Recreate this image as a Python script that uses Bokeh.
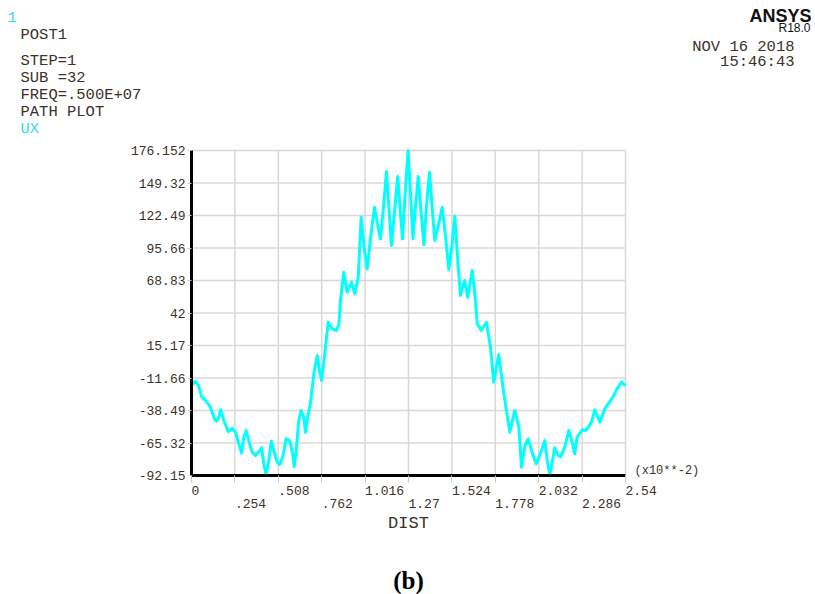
from bokeh.plotting import figure
from bokeh.models import (Range1d, FixedTicker, Label, LabelSet, ColumnDataSource,
                          LinearAxis, CustomLabelingPolicy)
from bokeh.core.properties import value
from bokeh.embed import file_html
from bokeh.resources import INLINE

# ---- data (DIST in x10**-2, UX) ----
dist = [0.000, 0.023, 0.041, 0.059, 0.086, 0.111, 0.136, 0.146, 0.160, 0.171,
        0.189, 0.215, 0.238, 0.258, 0.277, 0.293, 0.306, 0.320, 0.335, 0.355,
        0.375, 0.392, 0.410, 0.423, 0.437, 0.452, 0.468, 0.482, 0.502, 0.515,
        0.534, 0.554, 0.574, 0.593, 0.601, 0.613, 0.628, 0.642, 0.657, 0.667,
        0.683, 0.696, 0.716, 0.736, 0.749, 0.761, 0.780, 0.800, 0.823, 0.847,
        0.862, 0.872, 0.891, 0.911, 0.936, 0.956, 0.976, 0.993, 1.011, 1.028,
        1.049, 1.071, 1.089, 1.106, 1.124, 1.141, 1.156, 1.170, 1.188, 1.207,
        1.220, 1.235, 1.250, 1.268, 1.282, 1.296, 1.311, 1.327, 1.344, 1.360,
        1.375, 1.393, 1.408, 1.424, 1.446, 1.467, 1.487, 1.506, 1.522, 1.541,
        1.559, 1.574, 1.598, 1.617, 1.643, 1.662, 1.672, 1.696, 1.726, 1.750,
        1.769, 1.798, 1.828, 1.863, 1.892, 1.916, 1.931, 1.952, 1.971, 1.990,
        2.017, 2.042, 2.068, 2.082, 2.097, 2.111, 2.126, 2.146, 2.160, 2.185,
        2.208, 2.228, 2.243, 2.257, 2.287, 2.306, 2.324, 2.341, 2.360, 2.390,
        2.419, 2.446, 2.466, 2.491, 2.517, 2.540]
ux = [-17.5, -14.5, -17.8, -27.0, -30.8, -35.8, -46.0, -47.3, -44.0, -37.9,
      -46.7, -55.8, -53.3, -56.4, -66.0, -73.7, -60.5, -55.0, -63.3, -72.9,
      -75.6, -73.0, -69.3, -82.5, -92.0, -79.8, -63.8, -71.5, -81.2, -83.1,
      -77.0, -61.9, -63.3, -74.2, -84.7, -71.5, -46.7, -38.5, -44.0, -56.4,
      -41.2, -33.0, -8.2, 6.9, -5.5, -13.7, 8.3, 34.4, 29.0, 27.6,
      31.7, 52.3, 75.7, 59.2, 67.4, 57.8, 71.6, 121.1, 95.0, 78.5,
      105.0, 129.3, 115.0, 103.2, 130.0, 158.8, 128.0, 97.7, 125.0, 154.7,
      130.0, 103.2, 140.0, 176.0, 140.0, 103.2, 130.0, 154.7, 125.0, 98.3,
      130.0, 158.2, 130.0, 101.9, 115.0, 129.3, 105.0, 77.9, 95.0, 121.9,
      85.0, 56.5, 68.8, 55.0, 77.1, 52.3, 33.1, 27.6, 34.4, 13.8,
      -15.1, 7.7, -24.7, -56.4, -38.5, -52.3, -85.3, -67.4, -61.9, -71.5,
      -82.5, -74.2, -63.3, -79.8, -92.0, -81.2, -69.3, -75.6, -76.5, -68.8,
      -55.0, -64.7, -74.2, -60.5, -54.4, -55.0, -52.0, -48.1, -37.9, -48.1,
      -37.1, -31.6, -27.5, -20.6, -15.1, -17.9]

y_ticks = [-92.15, -65.32, -38.49, -11.66, 15.17, 42.0, 68.83, 95.66, 122.49, 149.32, 176.152]
y_tick_labels = ["-92.15", "-65.32", "-38.49", "-11.66", "15.17", "42", "68.83",
                 "95.66", "122.49", "149.32", "176.152"]
x_ticks = [0.0, 0.254, 0.508, 0.762, 1.016, 1.27, 1.524, 1.778, 2.032, 2.286, 2.54]
x_tick_labels = ["0", ".254", ".508", ".762", "1.016", "1.27", "1.524", "1.778",
                 "2.032", "2.286", "2.54"]

header_first = "POST1"
header_lines = ["STEP=1", "SUB =32", "FREQ=.500E+07", "PATH PLOT"]
header_var = "UX"
window_no = "1"
brand = "ANSYS"
release = "R18.0"
date_txt = "NOV 16 2018"
time_txt = "15:46:43"
x_scale_txt = "(x10**-2)"
x_title = "DIST"
caption = "(b)"

TXT = "#3a322a"
CY = "#00ffff"
CYT = "#33e0e0"
MONO = "Liberation Mono"

W, H = 815, 594
# plot box in canvas pixels
BL, BR, BT, BB = 191, 625, 150, 475
x0, x1 = x_ticks[0], x_ticks[-1]
y0, y1 = y_ticks[0], y_ticks[-1]
kx = (x1 - x0) / (BR - BL)
ky = (y1 - y0) / (BB - BT)

p = figure(width=W, height=H,
           x_range=Range1d(x0 - BL * kx, x1 + (W - BR) * kx),
           y_range=Range1d(y0 - (H - BB) * ky, y1 + BT * ky),
           x_axis_location=None, y_axis_location=None,
           output_backend="svg", toolbar_location=None, min_border=0)
p.title.visible = False
p.outline_line_color = None
p.background_fill_color = "white"
p.border_fill_color = "white"
p.xgrid.visible = False
p.ygrid.visible = False

# grid lines of the plot box
GC = "#d8d8d8"
p.segment(x0=x_ticks, y0=[y0] * len(x_ticks), x1=x_ticks, y1=[y1] * len(x_ticks),
          line_color=GC, line_width=1.5)
p.segment(x0=[x0] * len(y_ticks), y0=y_ticks, x1=[x1] * len(y_ticks), y1=y_ticks,
          line_color=GC, line_width=1.5)

p.line(dist, ux, line_color=CY, line_width=3, line_join="round")

# y axis
ya = LinearAxis(fixed_location=x0, bounds=(y0, y1))
ya.ticker = FixedTicker(ticks=y_ticks)
ya.major_label_overrides = dict(zip(y_ticks, y_tick_labels))
ya.axis_line_width = 3
ya.axis_line_color = "black"
ya.major_tick_in = 0
ya.major_tick_out = 4
ya.major_tick_line_color = "#c8c8c8"
ya.minor_tick_line_color = None
ya.major_label_standoff = 2
ya.major_label_text_font = MONO
ya.major_label_text_font_size = "13px"
ya.major_label_text_color = TXT
p.add_layout(ya, "left")

# x axis (tick marks; its labels are drawn below in two staggered rows)
xa = LinearAxis(fixed_location=y0, bounds=(x0, x1))
xa.ticker = FixedTicker(ticks=x_ticks)
xa.major_label_text_font_size = "0px"
xa.major_label_standoff = 0
xa.major_label_policy = CustomLabelingPolicy(
    code="for (const i of indices) { indices.unset(i) }\nreturn indices")
xa.axis_line_width = 3
xa.axis_line_color = "black"
xa.major_tick_in = 0
xa.major_tick_out = 7
xa.major_tick_line_color = "#c8c8c8"
xa.minor_tick_line_color = None
xa.axis_label = x_title
xa.axis_label_text_font = MONO
xa.axis_label_text_font_size = "17px"
xa.axis_label_text_font_style = "normal"
xa.axis_label_text_color = TXT
xa.axis_label_standoff = 31
p.add_layout(xa, "below")

rows = [H - 494 if i % 2 == 0 else H - 507 for i in range(len(x_ticks))]
src = ColumnDataSource(dict(x=x_ticks, y=rows, text=x_tick_labels))
p.add_layout(LabelSet(x="x", y="y", text="text", source=src,
                      x_units="data", y_units="screen",
                      text_align="left", text_baseline="alphabetic",
                      text_font=value(MONO), text_font_size=value("13px"),
                      text_color=TXT))


def lab(txt, x, base, size="15.5px", color=TXT, font=MONO, align="left", style="normal"):
    # x: canvas px, base: baseline canvas px from top
    p.add_layout(Label(x=x, y=H - base, x_units="screen", y_units="screen", text=txt,
                       text_font=font, text_font_size=size, text_color=color,
                       text_align=align, text_baseline="alphabetic",
                       text_font_style=style))


lab(window_no, 7, 16, color=CYT)
lab(header_first, 20, 34)
for i, t in enumerate(header_lines):
    lab(t, 20, 60 + 17 * i)
lab(header_var, 20, 60 + 17 * len(header_lines), color=CYT)

lab(brand, 811, 15, size="18px", color="#111111", font="Liberation Sans",
    align="right", style="bold")
lab(release, 810, 27, size="12px", color="#111111", font="Liberation Sans", align="right")
lab(date_txt, 794, 46.5, align="right")
lab(time_txt, 794, 61.5, align="right")
lab(x_scale_txt, 634, 470, size="12px")
lab(caption, 408, 580, size="25px", color="black", font="Liberation Serif",
    align="center", style="bold")

open("out.html", "w").write(file_html(p, INLINE))
